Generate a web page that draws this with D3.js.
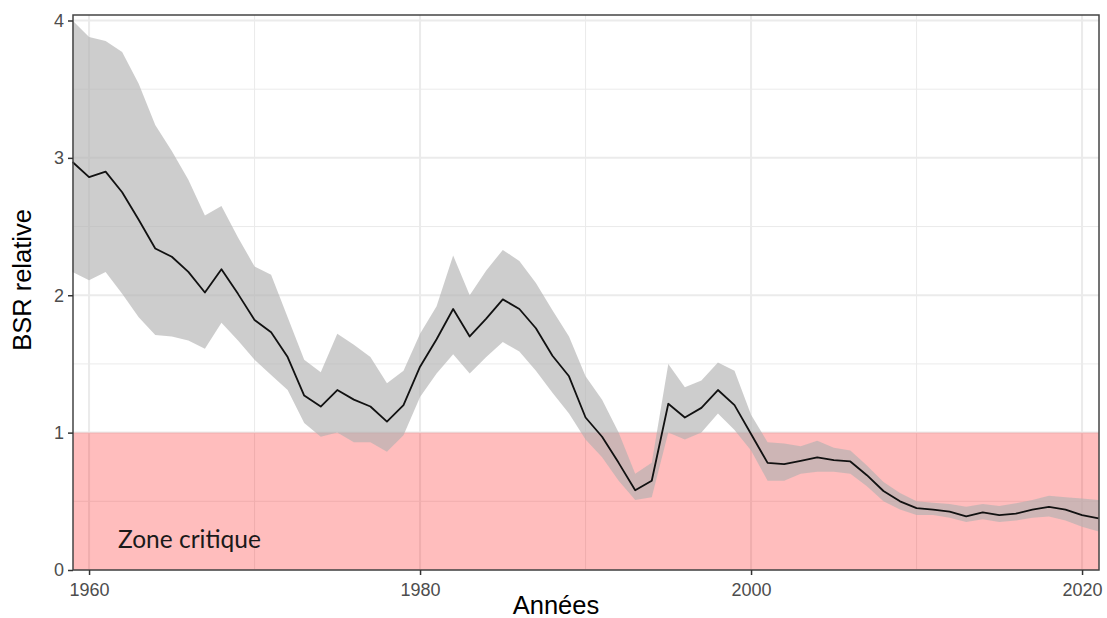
<!DOCTYPE html>
<html>
<head>
<meta charset="utf-8">
<script src="https://cdn.jsdelivr.net/npm/d3@7"></script>
<style>
  html, body { margin: 0; padding: 0; background: #ffffff; }
  svg { display: block; }
</style>
</head>
<body>
<svg id="chart" width="1107" height="618"></svg>
<script>
// Relative spawning stock biomass (BSR) with its uncertainty band, 1959–2021
const years = d3.range(1959, 2022);

const bsr = [
  2.97, 2.86, 2.90, 2.75, 2.55, 2.34, 2.28, 2.17, 2.02, 2.19,
  2.01, 1.82, 1.73, 1.55, 1.27, 1.19, 1.31, 1.24, 1.19, 1.08,
  1.20, 1.48, 1.68, 1.90, 1.70, 1.83, 1.97, 1.90, 1.76, 1.56,
  1.41, 1.11, 0.97, 0.78, 0.58, 0.65, 1.21, 1.11, 1.18, 1.31,
  1.20, 0.99, 0.78, 0.77, 0.795, 0.82, 0.80, 0.79, 0.69, 0.575,
  0.50, 0.45, 0.44, 0.425, 0.39, 0.42, 0.40, 0.41, 0.44, 0.46,
  0.44, 0.40, 0.376
];

const upper = [
  4.00, 3.88, 3.85, 3.77, 3.54, 3.24, 3.05, 2.84, 2.58, 2.65,
  2.42, 2.21, 2.15, 1.84, 1.53, 1.44, 1.72, 1.64, 1.55, 1.36,
  1.45, 1.72, 1.92, 2.29, 2.00, 2.18, 2.33, 2.25, 2.09, 1.89,
  1.70, 1.41, 1.24, 1.00, 0.70, 0.78, 1.50, 1.33, 1.38, 1.51,
  1.45, 1.13, 0.93, 0.92, 0.90, 0.94, 0.89, 0.87, 0.76, 0.64,
  0.56, 0.50, 0.49, 0.48, 0.46, 0.48, 0.465, 0.485, 0.51, 0.54,
  0.53, 0.52, 0.51
];

const lower = [
  2.17, 2.11, 2.17, 2.01, 1.84, 1.71, 1.70, 1.67, 1.61, 1.80,
  1.67, 1.53, 1.42, 1.31, 1.07, 0.97, 1.00, 0.93, 0.93, 0.86,
  0.98, 1.26, 1.43, 1.57, 1.43, 1.55, 1.66, 1.59, 1.45, 1.29,
  1.14, 0.95, 0.82, 0.65, 0.51, 0.53, 1.00, 0.95, 1.00, 1.14,
  1.02, 0.87, 0.65, 0.65, 0.70, 0.715, 0.715, 0.70, 0.61, 0.50,
  0.44, 0.40, 0.40, 0.38, 0.35, 0.37, 0.35, 0.36, 0.38, 0.39,
  0.36, 0.315, 0.28
];

const xTicks = [1960, 1980, 2000, 2020];
const xMinor = [1970, 1990, 2010];
const yTicks = [0, 1, 2, 3, 4];
const yMinor = [0.5, 1.5, 2.5, 3.5];
const criticalLimit = 1;
const zoneLabel = "Zone critique";
const xTitle = "Années";
const yTitle = "BSR relative";

const data = years.map((yr, i) => ({ year: yr, value: bsr[i], lo: lower[i], hi: upper[i] }));

const svg = d3.select("#chart");
const panel = { left: 73, right: 1099, top: 15, bottom: 570 };

const x = d3.scaleLinear().domain([1959, 2021]).range([panel.left - 0.5, panel.right - 0.4]);
const y = d3.scaleLinear().domain([0, 4.04]).range([panel.bottom, panel.top]);

// panel background
svg.append("rect")
  .attr("x", panel.left).attr("y", panel.top)
  .attr("width", panel.right - panel.left).attr("height", panel.bottom - panel.top)
  .attr("fill", "#ffffff");

// grid lines
const grid = svg.append("g");
grid.selectAll(".ymin").data(yMinor).join("line")
  .attr("x1", panel.left).attr("x2", panel.right)
  .attr("y1", d => y(d)).attr("y2", d => y(d))
  .attr("stroke", "#ebebeb").attr("stroke-width", 1);
grid.selectAll(".xmin").data(xMinor).join("line")
  .attr("y1", panel.top).attr("y2", panel.bottom)
  .attr("x1", d => x(d)).attr("x2", d => x(d))
  .attr("stroke", "#ebebeb").attr("stroke-width", 1);
grid.selectAll(".ymaj").data(yTicks).join("line")
  .attr("x1", panel.left).attr("x2", panel.right)
  .attr("y1", d => y(d)).attr("y2", d => y(d))
  .attr("stroke", "#ebebeb").attr("stroke-width", 2);
grid.selectAll(".xmaj").data(xTicks).join("line")
  .attr("y1", panel.top).attr("y2", panel.bottom)
  .attr("x1", d => x(d)).attr("x2", d => x(d))
  .attr("stroke", "#ebebeb").attr("stroke-width", 2);

// critical zone (below the reference level)
svg.append("rect")
  .attr("x", panel.left).attr("width", panel.right - panel.left)
  .attr("y", y(criticalLimit)).attr("height", y(0) - y(criticalLimit))
  .attr("fill", "#ff0000").attr("fill-opacity", 0.26);

// uncertainty ribbon
const area = d3.area()
  .x(d => x(d.year))
  .y0(d => y(d.lo))
  .y1(d => y(d.hi));
svg.append("path").datum(data)
  .attr("d", area)
  .attr("fill", "#b1b1b1").attr("fill-opacity", 0.64);

// central estimate
const line = d3.line().x(d => x(d.year)).y(d => y(d.value));
svg.append("path").datum(data)
  .attr("d", line)
  .attr("fill", "none").attr("stroke", "#111111").attr("stroke-width", 1.8)
  .attr("stroke-linejoin", "round");

// zone label
svg.append("text")
  .attr("x", 118).attr("y", 548)
  .attr("font-family", "Lato, 'Open Sans', sans-serif")
  .attr("font-size", 24.5).attr("fill", "#1a1a1a")
  .text(zoneLabel);

// panel border
svg.append("rect")
  .attr("x", panel.left).attr("y", panel.top)
  .attr("width", panel.right - panel.left).attr("height", panel.bottom - panel.top)
  .attr("fill", "none").attr("stroke", "#444444").attr("stroke-width", 1.5);

// axes
const xAxis = d3.axisBottom(x).tickValues(xTicks).tickFormat(d3.format("d")).tickSize(5).tickPadding(8);
const yAxis = d3.axisLeft(y).tickValues(yTicks).tickFormat(d3.format("d")).tickSize(5).tickPadding(4);

const gx = svg.append("g").attr("transform", `translate(0,${panel.bottom})`).call(xAxis);
const gy = svg.append("g").attr("transform", `translate(${panel.left},0)`).call(yAxis);
[gx, gy].forEach(g => {
  g.select(".domain").remove();
  g.selectAll(".tick line").attr("stroke", "#333333").attr("stroke-width", 1.5);
  g.selectAll(".tick text")
    .attr("font-family", "'Liberation Sans', Arial, sans-serif")
    .attr("font-size", 18).attr("fill", "#4d4d4d");
});

// axis titles
svg.append("text")
  .attr("x", 556).attr("y", 614)
  .attr("text-anchor", "middle")
  .attr("font-family", "'Liberation Sans', Arial, sans-serif")
  .attr("font-size", 25.5).attr("fill", "#000000")
  .text(xTitle);

svg.append("text")
  .attr("transform", `translate(31,280) rotate(-90)`)
  .attr("text-anchor", "middle")
  .attr("font-family", "'Liberation Sans', Arial, sans-serif")
  .attr("font-size", 25.5).attr("fill", "#000000")
  .text(yTitle);
</script>
</body>
</html>
